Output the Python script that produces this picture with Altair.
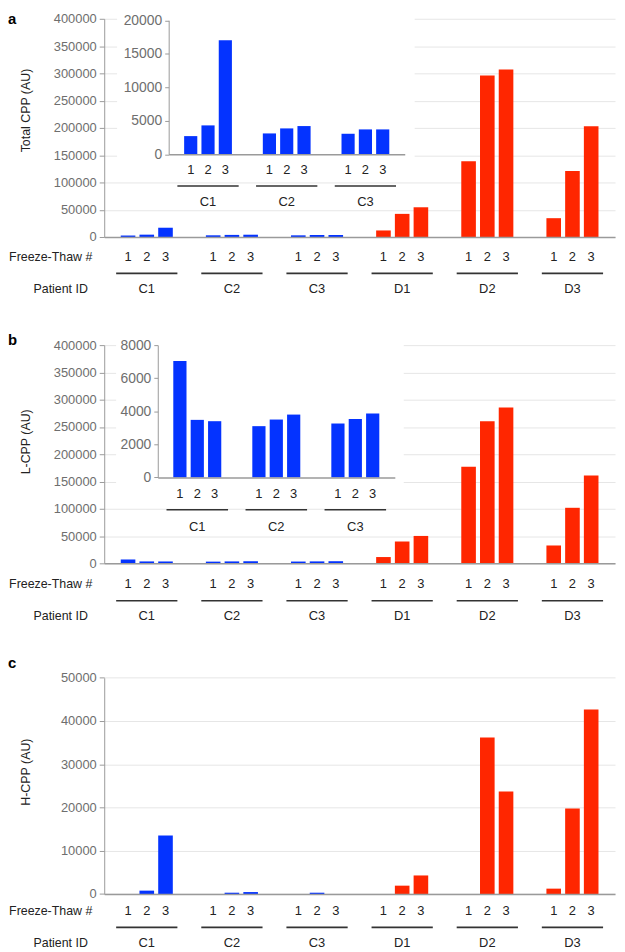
import altair as alt
import pandas as pd

# ---------------- data ----------------
patients = ["C1", "C2", "C3", "D1", "D2", "D3"]
inset_patients = ["C1", "C2", "C3"]
freeze_thaw = [1, 2, 3]
groups = ["C", "D"]

total_cpp = [2700, 4300, 17000, 3100, 3850, 4200, 3050, 3700, 3700,
             12000, 42400, 54500, 139000, 296000, 307000, 34500, 121000, 203000]
l_cpp = [7040, 3480, 3400, 3100, 3500, 3800, 3260, 3540, 3860,
         11500, 40000, 50200, 177000, 260500, 285500, 32700, 101800, 161000]
h_cpp = [0, 780, 13530, 0, 300, 450, 0, 300, 0,
         0, 1930, 4290, 0, 36170, 23700, 1240, 19800, 42660]

panel_letters = ["a", "b", "c"]
y_titles = ["Total CPP (AU)", "L-CPP (AU)", "H-CPP (AU)"]
row_titles = ["Freeze-Thaw #", "Patient ID"]
ticks_ab = [0, 50000, 100000, 150000, 200000, 250000, 300000, 350000, 400000]
ticks_c = [0, 10000, 20000, 30000, 40000, 50000]
inset_ticks_a = [0, 5000, 10000, 15000, 20000]
inset_ticks_b = [0, 2000, 4000, 6000, 8000]

# ---------------- style ----------------
BLUE = "#0433ff"
RED = "#ff2600"
FONT = "Liberation Sans"
AXIS_GRAY = "#9a9a9a"
LABEL_GRAY = "#6e6e6e"
DARK = "#222222"
W = 515


def make_df(values, keep):
    rows = []
    for i, p in enumerate(patients):
        if p not in keep:
            continue
        for j, f in enumerate(freeze_thaw):
            rows.append({"patient": p, "ft": f, "value": values[3 * i + j], "group": p[0]})
    return pd.DataFrame(rows)


color_enc = alt.Color("group:N", scale=alt.Scale(domain=groups, range=[BLUE, RED]), legend=None)


def main_part(values, H, ymax, yticks, ytitle, title_y, ft_dy, ul_dy, pid_dy, letter,
              letter_y, letter_base, yrange=None):
    df = make_df(values, patients)
    xs = alt.Scale(domain=patients, paddingInner=0.34, paddingOuter=0.17)
    os_ = alt.Scale(domain=freeze_thaw, paddingInner=0.22, paddingOuter=0.11)
    if yrange is None:
        ys = alt.Scale(domain=[0, ymax], nice=False)
    else:
        ys = alt.Scale(domain=[0, ymax], nice=False, range=yrange)
    xaxis = alt.Axis(title=row_titles[1], titleX=-17, titleY=pid_dy, titleAlign="right",
                     titleBaseline="middle", titleAngle=0, titleFontSize=12.5,
                     titleFontWeight="normal", titleColor=DARK, labelAngle=0,
                     labelPadding=pid_dy, labelBaseline="middle", labelFontSize=13,
                     labelColor=DARK, ticks=False, tickSize=0, domainColor=AXIS_GRAY,
                     domainWidth=1.5, grid=False, zindex=1)
    yaxis = alt.Axis(values=yticks, format="d", title=ytitle, titleX=-79, titleY=title_y,
                     titleAngle=270, titleAlign="center", titleBaseline="middle",
                     titleFontSize=12.5, titleFontWeight="normal", titleColor=DARK,
                     labelFontSize=13, labelColor=LABEL_GRAY, labelPadding=3, tickSize=5,
                     tickColor=AXIS_GRAY, domainColor=AXIS_GRAY, grid=True,
                     gridColor="#e6e6e6", zindex=0)
    xo = alt.XOffset("ft:O", scale=os_)
    bars = alt.Chart(df).mark_bar().encode(
        x=alt.X("patient:N", scale=xs, sort=patients, axis=xaxis),
        xOffset=xo,
        y=alt.Y("value:Q", scale=ys, axis=yaxis),
        color=color_enc,
    )
    nums = alt.Chart(df).mark_text(fontSize=13, color=DARK, baseline="middle").encode(
        x=alt.X("patient:N", scale=xs, sort=patients),
        xOffset=xo,
        y=alt.value(H + ft_dy),
        text="ft:O",
    )
    pdf = pd.DataFrame({"patient": patients})
    lines = alt.Chart(pdf).mark_bar(color="#333333", width=alt.RelativeBandSize(1.09)).encode(
        x=alt.X("patient:N", scale=xs, sort=patients),
        y=alt.value(H + ul_dy - 0.8),
        y2=alt.value(H + ul_dy + 0.8),
    )
    ft_title = alt.Chart(pd.DataFrame({"t": [row_titles[0]]})).mark_text(
        align="right", baseline="middle", fontSize=12.5, color=DARK
    ).encode(x=alt.value(-12), y=alt.value(H + ft_dy), text="t:N")
    let = alt.Chart(pd.DataFrame({"t": [letter]})).mark_text(
        align="left", baseline=letter_base, fontSize=15, fontWeight="bold", color="#000000"
    ).encode(x=alt.value(-97), y=alt.value(letter_y), text="t:N")
    return alt.layer(bars, nums, lines, ft_title, let)


def inset_part(values, H, xr, yr, ymax, yticks, num_y, ul_y, lab_pad, box):
    df = make_df(values, inset_patients)
    xs = alt.Scale(domain=inset_patients, paddingInner=0.34, paddingOuter=0.17, range=xr)
    os_ = alt.Scale(domain=freeze_thaw, paddingInner=0.24, paddingOuter=0.12)
    ys = alt.Scale(domain=[0, ymax], nice=False, range=yr)
    xaxis = alt.Axis(orient="bottom", offset=yr[0] - H, title=None, labelAngle=0,
                     labelPadding=lab_pad, labelBaseline="middle", labelFontSize=13,
                     labelColor=DARK, ticks=False, tickSize=0, domainColor=AXIS_GRAY,
                     domainWidth=1.5, grid=False, zindex=2)
    yaxis = alt.Axis(orient="left", offset=-xr[0], values=yticks, format="d", title=None,
                     labelFontSize=14, labelColor=LABEL_GRAY, labelPadding=3, tickSize=4,
                     tickColor=AXIS_GRAY, domainColor=AXIS_GRAY, grid=False, zindex=2)
    xo = alt.XOffset("ft:O", scale=os_)
    bars = alt.Chart(df).mark_bar().encode(
        x=alt.X("patient:N", scale=xs, sort=inset_patients, axis=xaxis),
        xOffset=xo,
        y=alt.Y("value:Q", scale=ys, axis=yaxis),
        color=color_enc,
    )
    nums = alt.Chart(df).mark_text(fontSize=13, color=DARK, baseline="middle").encode(
        x=alt.X("patient:N", scale=xs, sort=inset_patients),
        xOffset=xo,
        y=alt.value(num_y),
        text="ft:O",
    )
    pdf = pd.DataFrame({"patient": inset_patients})
    lines = alt.Chart(pdf).mark_bar(color="#333333", width=alt.RelativeBandSize(1.18)).encode(
        x=alt.X("patient:N", scale=xs, sort=inset_patients),
        y=alt.value(ul_y - 0.8),
        y2=alt.value(ul_y + 0.8),
    )
    bg = alt.Chart(pd.DataFrame({"k": [0]})).mark_rect(color="white").encode(
        x=alt.value(box[0]), x2=alt.value(box[1]), y=alt.value(box[2]), y2=alt.value(box[3])
    )
    return bg, alt.layer(bars, nums, lines)


# ---------------- panel a ----------------
Ha = 220
main_a = main_part(total_cpp, Ha, 400000, ticks_ab, y_titles[0], 92, 20, 36.7, 51.7,
                   panel_letters[0], -6.5, "top")
bg_a, ins_a = inset_part(total_cpp, Ha, [65, 303], [136.5, 1.5], 20000, inset_ticks_a,
                         152, 168.5, 48, [13, 313, -2, 158])
panel_a = alt.layer(main_a, bg_a, ins_a).resolve_scale(
    x="independent", y="independent", xOffset="independent"
).properties(width=W, height=Ha)

# ---------------- panel b ----------------
Hb = 220
main_b = main_part(l_cpp, Hb, 400000, ticks_ab, y_titles[1], 97, 21, 37.7, 52.7,
                   panel_letters[1], -0.6, "alphabetic")
bg_b, ins_b = inset_part(l_cpp, Hb, [54, 293], [133.4, 0], 8000, inset_ticks_b,
                         150, 166, 49.3, [12, 302, -2, 158])
panel_b = alt.layer(main_b, bg_b, ins_b).resolve_scale(
    x="independent", y="independent", xOffset="independent"
).properties(width=W, height=Hb)

# ---------------- panel c ----------------
Hc = 224.4
main_c = main_part(h_cpp, Hc, 50000, ticks_c, y_titles[2], 101, 17.6, 33.6, 49.3,
                   panel_letters[2], -3, "alphabetic", yrange=[Hc, 6.4])
panel_c = main_c.properties(width=W, height=Hc)

chart = alt.vconcat(panel_a, panel_b, panel_c, spacing=109, bounds="flush").properties(
    padding={"left": 0, "top": 0, "right": 2, "bottom": 0}
).configure(font=FONT).configure_view(stroke=None)

chart.save("out.html", embed_options={"renderer": "svg", "actions": False})
